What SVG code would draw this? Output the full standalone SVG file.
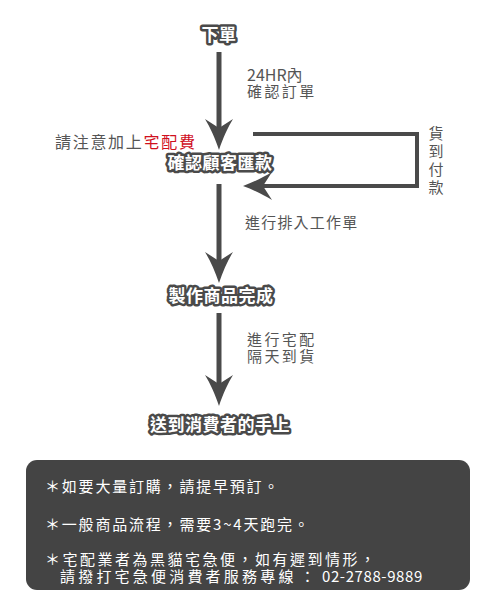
<svg xmlns="http://www.w3.org/2000/svg" width="500" height="600" viewBox="0 0 500 600">
<style>
.step{font-family:"Noto Sans CJK TC","Noto Sans CJK SC",sans-serif;font-size:17px;font-weight:bold;fill:#fff;stroke:#4a4a4a;stroke-width:5px;stroke-linejoin:round;paint-order:stroke;text-anchor:middle;letter-spacing:0.5px}
.lbl{font-family:"Noto Sans CJK TC","Noto Sans CJK SC",sans-serif;font-size:15px;fill:#555;letter-spacing:2.4px}
.note{font-family:"Noto Sans CJK TC","Noto Sans CJK SC",sans-serif;font-size:15px;fill:#fff;letter-spacing:1.8px}
.line{stroke:#4a4a4a;stroke-width:5;fill:none}
.head{fill:#4a4a4a}
</style>
<rect width="500" height="600" fill="#fff"/>
<g id="connectors">
<line class="line" x1="219" y1="52" x2="219" y2="135"/>
<path class="head" d="M219,150 C215,138 210,127 205,119 L219,128 L233,119 C228,127 223,138 219,150 Z"/>
<line class="line" x1="219" y1="184" x2="219" y2="268"/>
<path class="head" d="M219,283 C215,271 210,260 205,252 L219,261 L233,252 C228,260 223,271 219,283 Z"/>
<line class="line" x1="219" y1="313" x2="219" y2="390"/>
<path class="head" d="M219,406 C215,394 210,383 205,375 L219,384 L233,375 C228,383 223,394 219,406 Z"/>
<polyline class="line" points="253,134 417,134 417,186 258,186" style="stroke-width:4"/>
<path class="head" d="M243,186 C254,182 264,177 272,172 L263,186 L272,200 C264,195 254,190 243,186 Z"/>
</g>
<g id="n-order"><text class="step" x="219" y="41">下單</text></g>
<g id="l-confirm"><text class="lbl" x="247" y="81" style="font-size:16px;letter-spacing:0">24HR內</text><text class="lbl" x="247" y="97">確認訂單</text></g>
<g id="l-fee"><text class="lbl" x="55" y="148" style="font-size:16px;letter-spacing:1.7px">請注意加上<tspan style="fill:#d0101e">宅配費</tspan></text></g>
<g id="n-pay"><text class="step" x="220" y="169">確認顧客匯款</text></g>
<g id="l-cod"><text class="lbl" x="436" y="139" style="text-anchor:middle;letter-spacing:0">貨</text><text class="lbl" x="436" y="157" style="text-anchor:middle;letter-spacing:0">到</text><text class="lbl" x="436" y="175" style="text-anchor:middle;letter-spacing:0">付</text><text class="lbl" x="436" y="193" style="text-anchor:middle;letter-spacing:0">款</text></g>
<g id="l-queue"><text class="lbl" x="245" y="228" style="letter-spacing:1.2px">進行排入工作單</text></g>
<g id="n-made"><text class="step" x="221" y="302">製作商品完成</text></g>
<g id="l-ship"><text class="lbl" x="247" y="345">進行宅配</text><text class="lbl" x="247" y="362">隔天到貨</text></g>
<g id="n-deliver"><text class="step" x="220" y="431">送到消費者的手上</text></g>
<g id="notes">
<rect x="26" y="460" width="444" height="130" rx="11" fill="#444"/>
<text class="note" x="45" y="492">＊如要大量訂購，請提早預訂。</text>
<text class="note" x="45" y="530">＊一般商品流程，需要3~4天跑完。</text>
<text class="note" x="45" y="565" style="letter-spacing:2.5px">＊宅配業者為黑貓宅急便，如有遲到情形，</text>
<text class="note" x="60" y="582" style="letter-spacing:3.2px">請撥打宅急便消費者服務專線<tspan x="300">：</tspan><tspan x="322" style="letter-spacing:0.6px">02-2788-9889</tspan></text>
</g>
</svg>
